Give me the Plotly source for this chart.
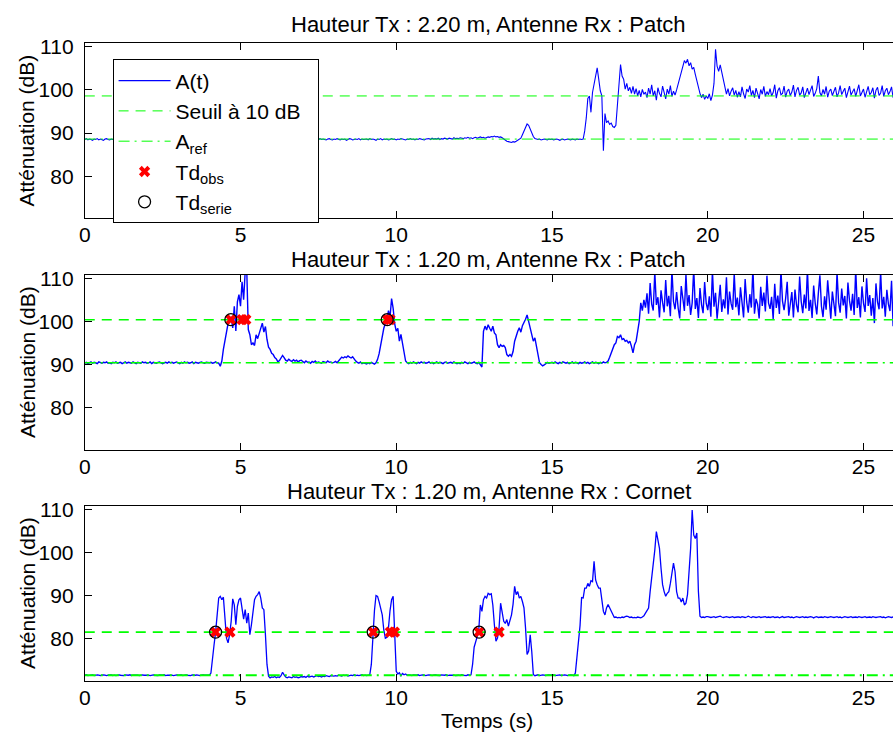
import numpy as np
import plotly.graph_objects as go

W, H = 893, 738
DT = 0.05  # sampling step (s)

# ---- Panel 1 : Hauteur Tx 2.20 m, Patch (one row per second, 20 samples) ----
a_patch_220 = [
    88.5,88.7,88.4,88.6,88.5,88.3,88.6,88.5,88.7,88.4,88.6,88.5,88.3,88.6,88.7,88.5,88.4,88.6,88.5,88.6,
    88.4,88.7,88.5,88.6,88.3,88.5,88.6,88.4,88.7,88.5,88.6,88.5,88.4,88.7,88.5,88.6,88.3,88.5,88.6,88.5,
    88.7,88.4,88.6,88.5,88.5,88.3,88.6,88.7,88.4,88.5,88.6,88.5,88.7,88.4,88.6,88.5,88.3,88.6,88.5,88.7,
    88.5,88.4,88.6,88.5,88.7,88.6,88.4,88.5,88.3,88.6,88.5,88.6,88.4,88.7,88.5,88.4,88.6,88.5,88.6,88.3,
    88.6,88.5,88.7,88.4,88.6,88.5,88.5,88.3,88.6,88.5,88.4,88.6,88.5,88.7,88.5,88.4,88.6,88.5,88.3,88.6,
    88.5,88.7,88.4,88.6,88.5,88.6,88.4,88.5,88.7,88.5,88.6,88.5,88.7,88.6,88.4,88.6,88.5,88.7,88.4,88.6,
    88.4,88.6,88.5,88.7,88.5,88.4,88.6,88.5,88.3,88.6,88.5,88.7,88.4,88.6,88.5,88.6,88.4,88.5,88.7,88.5,
    88.6,88.5,88.4,88.6,88.7,88.5,88.6,88.3,88.5,88.6,88.4,88.7,88.5,88.6,88.5,88.4,88.6,88.7,88.5,88.4,
    88.6,88.5,88.7,88.5,88.4,88.6,88.5,88.6,88.3,88.5,88.7,88.6,88.4,88.5,88.6,88.5,88.7,88.4,88.6,88.5,
    88.5,88.6,88.4,88.7,88.5,88.6,88.5,88.3,88.6,88.5,88.7,88.4,88.6,88.5,88.6,88.4,88.5,88.7,88.5,88.6,
    88.4,88.6,88.5,88.7,88.6,88.5,88.4,88.6,88.5,88.7,88.5,88.6,88.4,88.6,88.5,88.7,88.6,88.5,88.4,88.6,
    88.6,88.7,88.5,88.8,88.6,88.7,88.6,88.8,88.5,88.7,88.6,88.8,88.7,88.6,88.8,88.7,88.6,88.9,88.7,88.8,
    88.7,88.9,88.8,88.7,88.9,88.8,89.0,88.8,88.9,88.7,88.9,89.0,88.8,88.9,89.1,88.9,89.0,88.8,89.0,89.1,
    89.0,89.2,89.1,89.3,89.1,89.2,89.0,89.1,88.9,88.6,88.3,88.1,88.0,87.9,87.8,88.0,87.9,88.1,88.3,88.5,
    88.8,89.6,90.6,91.5,92.1,91.8,90.9,90.0,89.2,88.7,88.6,88.5,88.6,88.4,88.5,88.6,88.5,88.4,88.6,88.5,
    88.6,88.4,88.5,88.6,88.5,88.3,88.5,88.6,88.4,88.5,88.6,88.5,88.4,88.6,88.5,88.4,88.6,88.5,88.6,88.5,
    88.6,90.5,93.5,98.0,98.6,94.8,99.4,101.5,103.8,105.1,102.5,99.8,98.6,85.9,94.5,92.4,92.8,92.0,92.3,91.5,
    91.3,91.8,96.5,102.0,105.9,103.2,102.5,100.2,101.5,99.8,100.6,99.2,100.8,99.0,100.3,98.6,99.9,98.4,100.1,99.0,
    99.5,98.2,100.4,99.0,101.2,98.6,99.8,97.6,100.5,99.2,98.4,100.9,99.3,97.9,100.2,99.0,101.0,98.5,99.7,98.8,
    100.0,101.5,103.0,104.5,105.5,106.8,106.2,107.1,105.6,106.3,104.8,105.2,103.6,102.0,101.0,99.2,98.2,99.0,97.8,98.6,
    98.0,99.1,97.5,98.8,101.5,109.4,105.5,104.3,105.8,104.0,102.0,100.2,99.0,100.3,98.6,99.7,100.5,98.8,99.9,98.3,
    99.6,98.4,100.7,99.1,98.0,100.2,99.5,101.0,98.7,99.9,98.2,100.4,99.3,97.9,100.1,99.0,100.8,98.5,99.6,98.9,
    100.3,98.6,99.4,101.2,98.1,99.8,100.5,98.9,99.2,100.9,98.3,99.7,100.2,98.7,99.5,101.1,98.4,99.9,100.6,98.8,
    99.3,100.7,98.2,99.6,100.4,98.9,99.8,101.0,98.5,99.2,100.3,103.2,99.4,98.6,100.1,99.0,100.8,98.3,99.7,100.2,
    98.7,99.9,100.6,98.4,99.3,101.0,98.9,99.7,100.4,98.2,99.5,100.9,98.8,99.6,100.3,98.5,99.8,101.2,98.6,99.4,
    100.2,98.3,99.7,100.8,98.9,99.4,100.5,98.1,99.9,100.6,98.7,99.3,101.0,98.5,99.8,100.4,98.9,99.6,100.7,98.2,
    99.5,
]

# ---- Panel 2 : Hauteur Tx 1.20 m, Patch ----
a_patch_120 = [
    90.3,90.5,90.2,90.4,90.6,90.3,90.5,90.4,90.2,90.6,90.4,90.3,90.5,90.4,90.6,90.3,90.4,90.2,90.5,90.4,
    90.6,90.3,90.4,90.5,90.2,90.4,90.6,90.3,90.5,90.4,90.3,90.6,90.4,90.2,90.5,90.4,90.3,90.6,90.4,90.5,
    90.3,90.4,90.6,90.2,90.5,90.4,90.3,90.5,90.6,90.4,90.2,90.4,90.5,90.3,90.6,90.4,90.5,90.3,90.4,90.6,
    90.4,90.2,90.5,90.3,90.6,90.4,90.5,90.3,90.4,90.6,90.2,90.5,90.4,90.3,90.5,90.6,90.4,90.3,90.5,90.4,
    90.4,90.5,90.3,90.4,90.6,90.4,90.3,89.6,90.8,93.5,95.8,97.0,99.5,100.0,101.0,98.5,103.5,97.8,104.5,106.2,
    103.5,109.2,105.0,111.5,112.0,98.1,96.9,94.6,95.0,94.4,96.9,96.0,97.2,98.5,99.6,97.5,98.8,95.8,94.0,93.5,
    92.6,92.3,91.6,91.3,90.6,90.9,91.5,92.1,91.6,91.0,90.8,91.2,90.9,90.7,91.1,90.8,91.0,90.6,90.9,91.0,
    90.7,90.4,90.8,90.5,90.6,90.3,90.7,90.5,90.8,90.4,90.6,90.5,90.3,90.7,90.6,90.4,90.8,90.5,90.6,90.4,
    90.5,90.7,90.4,90.8,91.4,91.7,91.5,91.8,91.6,92.0,91.7,91.5,91.8,91.2,90.8,90.5,90.3,90.6,90.2,90.4,
    90.3,90.1,90.4,90.2,90.5,90.3,90.1,90.4,91.2,92.5,94.5,97.0,98.4,99.5,100.4,102.5,101.0,105.3,103.0,99.4,
    97.7,98.4,95.4,97.0,94.6,92.3,90.8,90.4,90.2,90.5,90.3,90.6,90.4,90.2,90.5,90.3,90.6,90.4,90.5,90.3,
    90.4,90.6,90.3,90.5,90.2,90.4,90.6,90.3,90.5,90.4,90.2,90.5,90.6,90.3,90.4,90.5,90.3,90.6,90.4,90.2,
    90.4,90.2,90.5,90.3,90.6,90.4,90.2,90.5,90.3,90.4,90.6,90.3,90.2,90.5,90.0,89.4,97.7,98.9,98.0,99.2,
    98.4,97.7,98.9,97.3,96.9,94.6,93.9,94.6,94.2,94.4,93.9,92.3,91.9,92.3,91.9,93.0,95.4,96.9,97.7,98.5,
    97.5,99.0,99.6,100.5,101.5,100.0,98.1,96.9,95.4,96.2,93.9,92.3,90.4,90.0,89.7,89.9,90.2,90.5,90.3,90.4,
    90.5,90.3,90.6,90.4,90.2,90.5,90.3,90.6,90.4,90.3,90.5,90.2,90.4,90.6,90.3,90.5,90.4,90.2,90.5,90.3,
    90.4,90.6,90.3,90.5,90.2,90.4,90.6,90.3,90.5,90.4,90.2,90.5,90.3,90.6,90.4,90.5,90.8,91.7,92.7,93.9,
    94.6,95.0,96.5,96.2,96.9,95.8,96.0,95.4,95.6,95.0,95.4,94.2,92.7,94.6,95.4,97.7,100.0,104.3,102.5,105.0,
    103.2,106.5,101.8,108.9,104.0,102.5,111.5,103.8,105.6,100.9,107.2,104.4,102.1,109.6,103.5,105.9,101.2,112.0,104.6,102.8,
    106.8,103.1,100.7,108.2,104.9,102.4,110.9,103.6,106.1,101.5,104.3,112.3,102.9,105.4,100.8,107.7,103.9,101.9,109.1,104.2,
    102.6,105.8,101.1,111.8,103.4,106.6,100.6,104.8,108.5,102.2,105.1,103.0,110.2,101.6,106.9,104.1,102.7,111.1,103.3,105.5,
    101.4,107.9,103.7,100.9,109.8,104.5,102.0,106.3,103.2,112.5,101.8,105.2,104.0,100.7,108.0,103.6,106.7,102.3,110.6,104.3,
    102.9,105.7,100.5,108.7,103.1,106.0,101.7,111.9,104.7,102.6,105.3,109.2,101.3,104.1,106.8,100.9,107.4,103.8,102.1,110.4,
    104.6,101.9,106.2,103.0,112.1,102.4,105.0,100.8,108.3,104.2,101.6,106.5,110.7,103.5,101.0,105.8,102.7,109.5,104.0,100.6,
    106.9,103.3,101.2,111.4,104.4,102.0,107.6,103.7,105.9,100.7,109.0,104.8,102.5,106.4,101.5,112.2,103.1,105.6,100.9,108.1,
    104.2,102.2,110.0,103.6,106.1,101.3,105.4,99.6,108.8,104.5,102.8,111.6,103.0,105.7,101.1,107.3,104.0,102.4,109.4,98.9,
    103.5,
]

# ---- Panel 3 : Hauteur Tx 1.20 m, Cornet ----
a_cornet_120 = [
    71.5,71.6,71.4,71.5,71.5,71.6,71.4,71.5,71.6,71.5,71.4,71.5,71.6,71.5,71.4,71.5,71.5,71.6,71.4,71.5,
    71.4,71.5,71.6,71.5,71.5,71.4,71.6,71.5,71.5,71.6,71.4,71.5,71.5,71.6,71.5,71.4,71.5,71.6,71.5,71.5,
    71.6,71.5,71.4,71.5,71.6,71.5,71.5,71.4,71.6,71.5,71.5,71.6,71.4,71.5,71.5,71.6,71.5,71.4,71.5,71.6,
    71.5,71.5,71.6,71.4,71.5,71.6,71.5,71.5,71.4,71.6,71.5,71.5,71.6,71.5,71.4,71.5,71.6,71.5,71.5,71.4,
    71.5,72.0,76.0,78.5,81.5,85.5,89.4,89.8,89.0,89.6,83.5,80.1,79.0,80.9,84.0,89.2,87.8,83.2,87.5,89.0,
    89.4,87.1,84.5,86.7,83.6,85.9,80.9,83.2,87.0,89.0,89.8,90.2,90.9,89.4,87.1,86.7,80.9,74.0,71.3,70.9,
    71.1,71.0,71.2,70.9,71.1,71.0,71.4,72.2,71.6,71.1,70.9,71.1,71.0,70.9,71.2,71.0,71.1,70.9,71.0,71.2,
    71.1,71.2,71.0,71.3,71.1,71.2,71.3,71.1,71.2,71.4,71.2,71.3,71.1,71.3,71.2,71.4,71.3,71.2,71.4,71.3,
    71.3,71.4,71.3,71.5,71.4,71.3,71.5,71.4,71.5,71.3,71.4,71.5,71.4,71.6,71.4,71.5,71.4,71.5,71.6,71.4,
    71.5,71.4,71.5,71.6,74.0,81.5,86.5,90.0,89.8,88.5,87.1,85.5,82.0,80.1,80.3,82.5,86.5,89.0,89.8,80.5,
    72.4,71.8,72.1,71.4,71.9,71.6,71.8,71.5,71.6,71.5,71.4,71.6,71.5,71.5,71.6,71.4,71.5,71.6,71.5,71.4,
    71.5,71.6,71.5,71.4,71.5,71.6,71.5,71.5,71.4,71.6,71.5,71.5,71.6,71.4,71.5,71.5,71.6,71.5,71.4,71.5,
    71.5,71.4,71.6,71.5,71.5,71.4,71.6,71.5,71.6,74.0,78.0,79.0,80.5,82.1,87.8,86.3,89.0,89.8,89.4,90.5,
    90.2,90.4,87.8,83.2,79.4,80.1,82.5,88.2,85.9,84.0,83.5,84.4,82.9,84.0,85.5,88.0,92.1,90.2,90.9,89.4,
    89.8,88.6,87.1,82.5,76.3,77.1,80.9,77.0,71.7,71.4,71.5,71.6,71.4,71.5,71.6,71.5,71.4,71.5,71.6,71.5,
    71.5,71.6,71.4,71.5,71.5,71.6,71.4,71.5,71.6,71.5,71.4,71.5,71.6,71.5,71.4,72.0,75.5,79.5,83.0,89.5,
    89.4,91.7,91.7,92.8,92.1,93.4,93.2,97.9,93.6,92.5,91.7,91.7,89.4,86.3,85.5,87.1,87.9,87.1,86.3,85.5,
    84.9,85.0,84.8,84.9,84.8,85.0,84.9,85.1,85.2,85.1,84.9,85.0,84.8,84.9,84.8,85.0,84.9,84.8,85.0,85.3,
    85.9,86.5,87.1,90.9,94.0,97.5,100.5,104.8,102.5,100.9,96.3,92.5,90.9,89.8,90.5,90.9,92.8,95.5,97.5,95.5,
    90.9,89.4,89.4,88.5,89.4,87.8,88.2,90.2,96.0,100.9,109.8,104.0,103.2,104.5,90.9,85.2,84.9,85.0,84.9,85.1,
    85.1,85.0,84.9,85.0,85.1,84.9,85.0,85.0,85.2,85.0,84.9,85.0,85.1,85.0,84.9,85.0,85.1,84.9,85.0,85.0,
    85.0,84.9,85.1,85.0,84.9,85.0,85.2,85.0,84.9,85.1,85.0,84.9,85.0,85.1,84.9,85.0,85.0,85.1,84.9,85.0,
    84.9,85.0,85.1,84.9,85.0,85.0,84.8,85.0,85.1,84.9,85.0,85.0,85.1,84.9,85.0,84.8,85.0,85.1,85.0,84.9,
    85.0,85.1,84.9,85.0,84.9,85.0,85.1,85.0,84.8,85.0,85.1,84.9,85.0,85.0,84.9,85.1,85.0,84.9,85.0,85.1,
    85.0,84.9,85.0,85.1,84.9,85.0,84.8,85.0,85.1,85.0,84.9,85.0,85.1,84.9,85.0,85.0,84.9,85.1,85.0,84.9,
    85.0,85.1,84.9,85.0,85.0,84.9,85.1,85.0,84.9,85.0,85.0,85.1,84.9,85.0,84.8,85.0,85.1,85.0,84.9,85.0,
    85.0,
]

series = [a_patch_220, a_patch_120, a_cornet_120]
a_ref = [88.6, 90.4, 71.5]
seuil_offset = 10.0
titles = [
    "Hauteur Tx : 2.20 m, Antenne Rx : Patch",
    "Hauteur Tx : 1.20 m, Antenne Rx : Patch",
    "Hauteur Tx : 1.20 m, Antenne Rx : Cornet",
]
td_obs = [[], [4.69, 5.05, 5.17, 9.71, 9.80], [4.20, 4.66, 9.26, 9.81, 9.94, 12.66, 13.30]]
td_serie = [[], [4.69, 9.71], [4.20, 9.26, 12.66]]
x_ticks = [0, 5, 10, 15, 20, 25]
y_ticks = [80, 90, 100, 110]
y_label = "Atténuation (dB)"
x_label = "Temps (s)"
legend_names = ["A(t)", "Seuil à 10 dB\u00a0\u00a0", "A<sub>ref</sub>",
                "Td<sub>obs</sub>", "Td<sub>serie</sub>"]

FONT = "Liberation Sans, Arial, Helvetica, sans-serif"
FS = 21

# pixel geometry
X0_PX, PX_PER_S = 79.3, 31.36
panel_px = [(35.5, 212.5), (269.5, 446.5), (503.0, 680.0)]
title_px = [17.0, 254.0, 489.0]
y_range = [70.25, 110.85]
x_range = [0, (W - X0_PX) / PX_PER_S]

line_w = [1.1, 1.4, 1.3]
green_w = [1.0, 1.5, 1.8]

fig = go.Figure()
for i, a in enumerate(series):
    t = np.arange(len(a)) * DT
    xa = "x" if i == 0 else f"x{i+1}"
    ya = "y" if i == 0 else f"y{i+1}"
    seuil = a_ref[i] + seuil_offset
    show = i == 0
    fig.add_trace(go.Scatter(x=t, y=a, mode="lines", name=legend_names[0],
                             line=dict(color="#0000ff", width=line_w[i]),
                             xaxis=xa, yaxis=ya, showlegend=show))
    fig.add_trace(go.Scatter(x=[t[0], t[-1]], y=[seuil, seuil], mode="lines",
                             name=legend_names[1],
                             line=dict(color="#00ff00", width=green_w[i], dash="10px,7px"),
                             xaxis=xa, yaxis=ya, showlegend=show))
    fig.add_trace(go.Scatter(x=[t[0], t[-1]], y=[a_ref[i], a_ref[i]], mode="lines",
                             name=legend_names[2],
                             line=dict(color="#00ff00", width=green_w[i], dash="11px,5px,2px,5px"),
                             xaxis=xa, yaxis=ya, showlegend=show))
    fig.add_trace(go.Scatter(x=td_obs[i] if td_obs[i] else [None],
                             y=[seuil] * len(td_obs[i]) if td_obs[i] else [None],
                             mode="markers", name=legend_names[3],
                             marker=dict(symbol="x", size=10, color="#ff0000",
                                         line=dict(width=0)),
                             xaxis=xa, yaxis=ya, showlegend=show))
    fig.add_trace(go.Scatter(x=td_serie[i] if td_serie[i] else [None],
                             y=[seuil] * len(td_serie[i]) if td_serie[i] else [None],
                             mode="markers", name=legend_names[4],
                             marker=dict(symbol="circle-open", size=12, color="#000000",
                                         line=dict(width=1.3, color="#000000")),
                             xaxis=xa, yaxis=ya, showlegend=show))

layout = dict(
    width=W, height=H, margin=dict(l=0, r=0, t=0, b=0),
    paper_bgcolor="white", plot_bgcolor="white",
    font=dict(family=FONT, size=FS, color="black"),
    legend=dict(x=107.3 / W, y=1 - 52 / H, xanchor="left", yanchor="top",
                bgcolor="white", bordercolor="black", borderwidth=1,
                font=dict(family=FONT, size=FS, color="black"),
                tracegroupgap=0, itemwidth=52),
    annotations=[],
)
for i, (top, bot) in enumerate(panel_px):
    sx = "" if i == 0 else str(i + 1)
    ya_name = "y" if i == 0 else f"y{i+1}"
    xa_name = "x" if i == 0 else f"x{i+1}"
    layout["xaxis" + sx] = dict(
        domain=[X0_PX / W, 1.0], range=x_range, anchor=ya_name,
        tickvals=x_ticks, ticks="inside", ticklen=7, tickcolor="black",
        showline=True, linecolor="black", linewidth=1, mirror="ticks",
        showgrid=False, zeroline=False, ticklabelstandoff=-2,
        tickfont=dict(family=FONT, size=FS, color="black"))
    layout["yaxis" + sx] = dict(
        domain=[1 - bot / H, 1 - top / H], range=y_range, anchor=xa_name,
        tickvals=y_ticks, ticks="inside", ticklen=7, tickcolor="black",
        showline=True, linecolor="black", linewidth=1, mirror=False,
        showgrid=False, zeroline=False, ticklabelstandoff=6,
        tickfont=dict(family=FONT, size=FS, color="black"))
    layout["annotations"].append(dict(
        text=titles[i], xref="paper", yref="paper", x=486 / W, y=1 - title_px[i] / H,
        xanchor="center", yanchor="middle", showarrow=False,
        font=dict(family=FONT, size=22, color="black")))
    layout["annotations"].append(dict(
        text=y_label, xref="paper", yref="paper", x=21 / W, y=1 - ((top + bot) / 2) / H,
        xanchor="center", yanchor="middle", showarrow=False, textangle=-90,
        font=dict(family=FONT, size=FS, color="black")))
layout["annotations"].append(dict(
    text=x_label, xref="paper", yref="paper", x=484 / W, y=1 - 720 / H,
    xanchor="center", yanchor="middle", showarrow=False,
    font=dict(family=FONT, size=FS, color="black")))

fig.update_layout(**layout)
fig.write_html("out.html", config={"displayModeBar": False},
               post_script="document.body.style.margin='0px';document.body.style.overflow='hidden';")
